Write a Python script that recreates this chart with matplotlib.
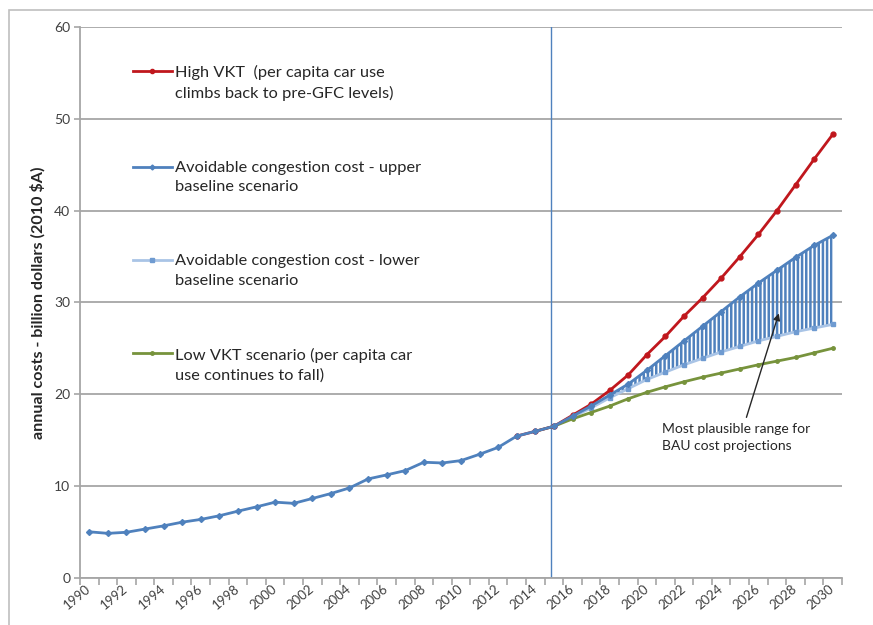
import matplotlib
matplotlib.use("Agg")
import matplotlib.pyplot as plt
from matplotlib.lines import Line2D
from matplotlib.patches import Rectangle

plt.rcParams['font.family'] = ['Lato', 'DejaVu Sans']
plt.rcParams['hatch.linewidth'] = 1.8

# historical + upper baseline (1990-2030)
years_up = list(range(1990, 2031))
upper = [5.0, 4.83, 4.95, 5.3, 5.65, 6.05, 6.35, 6.75, 7.25, 7.72,
         8.23, 8.1, 8.63, 9.17, 9.78, 10.76, 11.2, 11.67, 12.58, 12.5,
         12.76, 13.45, 14.2, 15.43, 15.95, 16.5,
         17.6, 18.7, 19.9, 21.1, 22.6, 24.2, 25.8, 27.4, 29.0, 30.6,
         32.1, 33.5, 34.9, 36.2, 37.3]

years_low = list(range(2015, 2031))
lower = [16.5, 17.5, 18.5, 19.6, 20.6, 21.6, 22.4, 23.2, 23.9, 24.6,
         25.2, 25.8, 26.3, 26.8, 27.2, 27.6]

years_high = list(range(2013, 2031))
high = [15.43, 15.95, 16.5, 17.7, 18.9, 20.4, 22.1, 24.3, 26.3, 28.5,
        30.5, 32.65, 34.97, 37.4, 40.0, 42.8, 45.6, 48.3]

years_lowvkt = list(range(2014, 2031))
lowvkt = [15.95, 16.5, 17.3, 18.0, 18.7, 19.5, 20.2, 20.8, 21.35, 21.85,
          22.3, 22.75, 23.2, 23.6, 24.0, 24.5, 25.0]

labels = ["High VKT  (per capita car use\nclimbs back to pre-GFC levels)",
          "Avoidable congestion cost - upper\nbaseline scenario",
          "Avoidable congestion cost - lower\nbaseline scenario",
          "Low VKT scenario (per capita car\nuse continues to fall)"]

red = "#C0171D"
blue = "#4F81BD"
lblue = "#A9C4E6"
green = "#77933C"

fig = plt.figure(figsize=(8.73, 6.25), dpi=100)
ax = fig.add_axes([0.0916, 0.0757, 0.8729, 0.881])

# outer frame of the chart
fig.patches.append(Rectangle((9 / 873, -0.1), 1.2, 1 - 10 / 625 + 0.1,
                             transform=fig.transFigure, fill=False,
                             edgecolor="#BFBFBF", linewidth=1.2))

# range between upper and lower baselines
up_proj = upper[25:]
ax.fill_between(years_low, lower, up_proj, facecolor="none",
                edgecolor=blue, hatch="||||", linewidth=0)

ax.axvline(2014.85, color=blue, linewidth=1.0)

ax.plot(years_low, lower, color=lblue, linewidth=2, marker="s",
        markersize=3.5, markerfacecolor="#6F9BD1", markeredgecolor="#6F9BD1")
ax.plot(years_lowvkt, lowvkt, color=green, linewidth=2, marker="o",
        markersize=2.5)
ax.plot(years_high, high, color=red, linewidth=2, marker="o",
        markersize=3.5)
ax.plot(years_up, upper, color=blue, linewidth=2, marker="D",
        markersize=3)

ax.set_xlim(1989.5, 2030.5)
ax.set_ylim(0, 60)
ax.set_yticks(range(0, 61, 10))
ax.yaxis.grid(True, color="#A6A6A6", linewidth=1.3)
ax.set_axisbelow(True)

ax.set_xticks(range(1990, 2031, 2))
ax.set_xticks([y - 0.5 for y in range(1990, 2032)], minor=True)
ax.tick_params(axis="x", which="major", length=0, pad=7, labelsize=9.5,
               labelcolor="#404040")
ax.tick_params(axis="x", which="minor", length=5, color="#A6A6A6",
               width=1.2)
ax.tick_params(axis="y", length=4, color="#A6A6A6", width=1.2,
               labelsize=10, labelcolor="#404040", pad=3)
for lab in ax.get_xticklabels():
    lab.set_rotation(40)
    lab.set_ha("right")
    lab.set_va("center")
    lab.set_rotation_mode("anchor")

for s in ["top", "right"]:
    ax.spines[s].set_visible(False)
for s in ["left", "bottom"]:
    ax.spines[s].set_color("#A6A6A6")
    ax.spines[s].set_linewidth(1.3)

ax.set_ylabel("annual costs - billion dollars (2010 $A)", fontsize=11.6,
              fontweight="bold", color="#262626", labelpad=6)

handles = [Line2D([], [], color=red, linewidth=2, marker="o", markersize=3),
           Line2D([], [], color=blue, linewidth=2, marker="D", markersize=2.5),
           Line2D([], [], color=lblue, linewidth=2, marker="s", markersize=3.5,
                  markerfacecolor="#6F9BD1", markeredgecolor="#6F9BD1"),
           Line2D([], [], color=green, linewidth=2, marker="o", markersize=2.5)]
leg = ax.legend(handles, labels, loc="upper left",
                bbox_to_anchor=(0.05, 0.958), frameon=False, fontsize=11.8,
                handlelength=2.4, handletextpad=0.15, labelspacing=3.65)
for t in leg.get_texts():
    t.set_color("#262626")
    t.set_linespacing(1.5)
for col in leg._legend_handle_box.get_children():
    for item in col.get_children():
        item.align = "top"

ann = ax.annotate("Most plausible range for\nBAU cost projections",
                  xy=(2027.1, 28.8), xytext=(2020.8, 15.3),
                  fontsize=10, color="#262626", va="center", ha="left",
                  linespacing=1.5,
                  arrowprops=dict(arrowstyle="-|>", color="#262626", lw=1,
                                  mutation_scale=10, relpos=(0.56, 1.0),
                                  shrinkA=2, shrinkB=0))

fig.savefig("out.png", dpi=100)
